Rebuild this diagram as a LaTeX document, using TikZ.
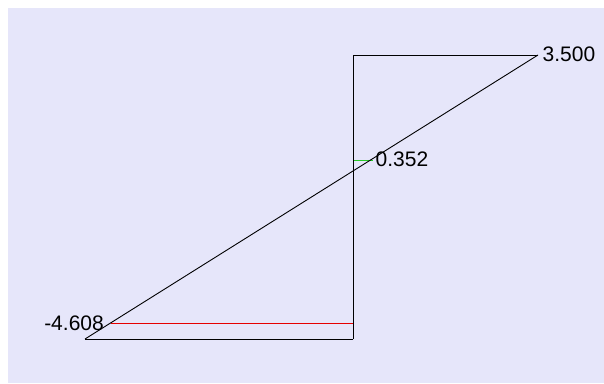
\documentclass[tikz,border=0pt]{standalone}
\usepackage{fontspec}
\setmainfont{Liberation Sans}
\usepackage{tikz}
\usetikzlibrary{positioning}

\definecolor{panelbg}{RGB}{230,230,250}
\definecolor{baseline}{RGB}{112,112,112}
\definecolor{minline}{RGB}{230,0,0}
\definecolor{zeroline}{RGB}{40,200,40}

\tikzset{
  valuelabel/.style={font=\fontsize{21pt}{25pt}\selectfont, inner sep=0pt},
  plotline/.style={line width=0.9pt}
}

\begin{document}
\begin{tikzpicture}[x=1pt, y=-1pt]
        \useasboundingbox (0,0) rectangle (604,383);
        \fill[panelbg] (8,8) rectangle (604,383);
        \coordinate (lo) at (85,339);
        \coordinate (base) at (353,339);
        \coordinate (top) at (353,55);
        \coordinate (hi) at (538,55);
        \coordinate (minL) at (110.5,323);
        \coordinate (minR) at (353,323);
        \coordinate (zeroL) at (353,160);
        \coordinate (zeroR) at (373,160);
        \draw[plotline, baseline] (lo) -- (base);
        \draw[plotline, minline] (minL) -- (minR);
        \draw[plotline, zeroline] (zeroL) -- (zeroR);
        \draw[plotline, black] (base) -- (top) -- (hi);
        \draw[plotline, black] (lo) -- (hi);
        \node[valuelabel, anchor=east] (minlab) at (104,322.8) {-4.608};
        \node[valuelabel, anchor=west] (hilab) at (542.5,54.5) {3.500};
        \node[valuelabel, anchor=west] (zerolab) at (375.5,159.5) {0.352};
      \end{tikzpicture}
\end{document}
